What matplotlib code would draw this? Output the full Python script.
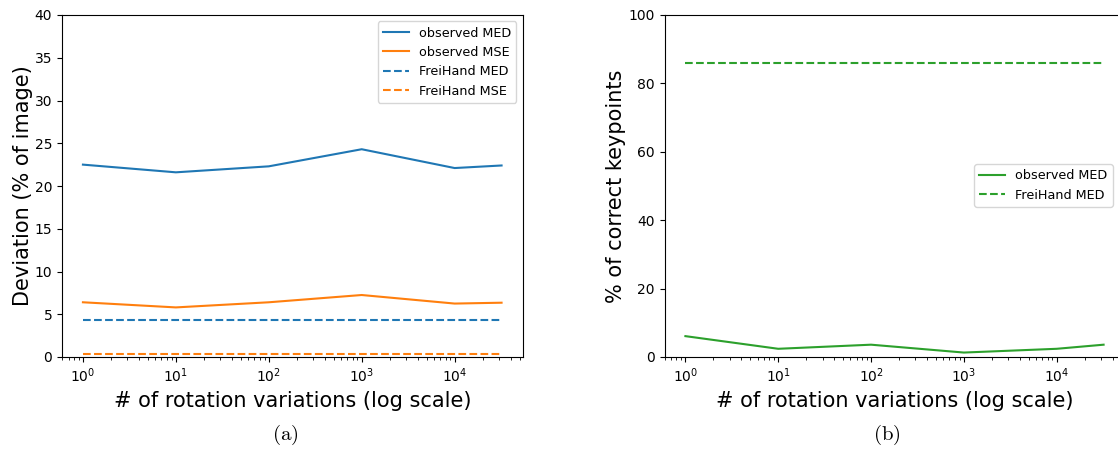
import matplotlib
matplotlib.use("Agg")
import matplotlib.pyplot as plt

# rotation variation counts (x axis, log scale)
rotations = [1, 10, 100, 1000, 10000, 32000]

# (a) deviation, % of image
observed_med = [22.5, 21.6, 22.3, 24.3, 22.1, 22.4]
observed_mse = [6.4, 5.8, 6.4, 7.25, 6.25, 6.35]
freihand_med = [4.3, 4.3, 4.3, 4.3, 4.3, 4.3]
freihand_mse = [0.38, 0.38, 0.38, 0.38, 0.38, 0.38]

# (b) % of correct keypoints
pck_observed = [6.1, 2.4, 3.6, 1.3, 2.4, 3.6]
pck_freihand = [86.0, 86.0, 86.0, 86.0, 86.0, 86.0]

plt.rcParams['mathtext.fontset'] = 'cm'

fig = plt.figure(figsize=(11.18, 4.5), dpi=100)
W, H = 1118, 450
ax1 = fig.add_axes([62 / W, 1 - 357 / H, (522.5 - 62) / W, (357 - 15) / H])
ax2 = fig.add_axes([664.5 / W, 1 - 357 / H, 460 / W, (357 - 15) / H])

# (a)
ax1.plot(rotations, observed_med, color='#1f77b4', label='observed MED')
ax1.plot(rotations, observed_mse, color='#ff7f0e', label='observed MSE')
ax1.plot(rotations, freihand_med, color='#1f77b4', linestyle='--', label='FreiHand MED')
ax1.plot(rotations, freihand_mse, color='#ff7f0e', linestyle='--', label='FreiHand MSE')
ax1.set_xscale('log')
ax1.set_ylim(0, 40)
ax1.set_xlabel('# of rotation variations (log scale)', fontsize=15)
ax1.set_ylabel('Deviation (% of image)', fontsize=15, labelpad=1.5)
ax1.legend(loc='upper right', fontsize=9.2)

# (b)
ax2.plot(rotations, pck_observed, color='#2ca02c', label='observed MED')
ax2.plot(rotations, pck_freihand, color='#2ca02c', linestyle='--', label='FreiHand MED')
ax2.set_xscale('log')
ax2.set_ylim(0, 100)
ax2.set_xlabel('# of rotation variations (log scale)', fontsize=15)
ax2.set_ylabel('% of correct keypoints', fontsize=15, labelpad=1.5)
ax2.legend(loc='center right', fontsize=9.2, bbox_to_anchor=(0.988, 0.502))

fig.text(285 / W, 1 - 435 / H, r'$\mathrm{(a)}$', ha='center', va='center', fontsize=15)
fig.text(887 / W, 1 - 435 / H, r'$\mathrm{(b)}$', ha='center', va='center', fontsize=15)

fig.savefig('out.png', dpi=100)
